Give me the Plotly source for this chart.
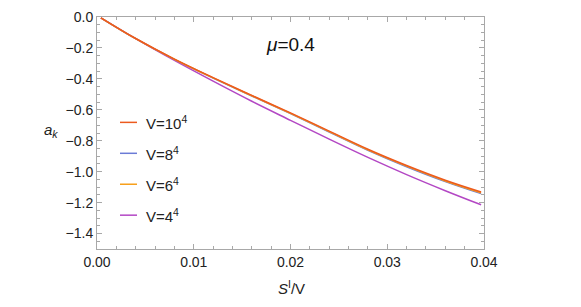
import plotly.graph_objects as go

x_vals = [0.0004, 0.004, 0.008, 0.012, 0.016, 0.020, 0.024, 0.028, 0.032, 0.036, 0.0397]
a_V10 = [-0.005, -0.139, -0.272, -0.392, -0.507, -0.620, -0.738, -0.855, -0.960, -1.055, -1.131]
a_V8 = [-0.005, -0.140, -0.274, -0.395, -0.511, -0.625, -0.744, -0.862, -0.968, -1.064, -1.142]
a_V6 = [-0.005, -0.140, -0.273, -0.394, -0.509, -0.623, -0.741, -0.859, -0.964, -1.060, -1.137]
a_V4 = [-0.005, -0.140, -0.281, -0.415, -0.545, -0.668, -0.790, -0.908, -1.019, -1.123, -1.214]

series_names = ["V=10<sup>4</sup>", "V=8<sup>4</sup>", "V=6<sup>4</sup>", "V=4<sup>4</sup>"]
series_vals = [a_V10, a_V8, a_V6, a_V4]
colors = ["#EC5A1E", "#6B7BD6", "#F7A01C", "#B347C4"]
draw_order = [3, 1, 2, 0]

fig = go.Figure()
for i in draw_order:
    fig.add_trace(go.Scatter(x=x_vals, y=series_vals[i], mode="lines",
                             line=dict(color=colors[i], width=1.5, shape="spline", smoothing=1.0),
                             showlegend=False))

W, H = 581, 307
L, R, T, B = 97, 97, 9, 58
pw, ph = W - L - R, H - T - B

def px(xp):
    return (xp - L) / pw

def py(yp):
    return 1 - (yp - T) / ph

font = "Liberation Sans, Arial, sans-serif"
legend_rows = [118, 150, 182, 214]
for i, yy in enumerate(legend_rows):
    fig.add_shape(type="line", xref="paper", yref="paper",
                  x0=px(120), x1=px(137), y0=py(yy), y1=py(yy),
                  line=dict(color=colors[i], width=1.5))
    fig.add_annotation(xref="paper", yref="paper", x=px(144), y=py(yy),
                       text=series_names[i], showarrow=False, xanchor="left", yanchor="middle",
                       font=dict(family=font, size=15, color="#222"))

fig.add_annotation(xref="paper", yref="paper", x=px(290), y=py(37),
                   text="<i>μ</i>=0.4", showarrow=False, xanchor="center", yanchor="middle",
                   font=dict(family=font, size=19, color="#111"))
fig.add_annotation(xref="paper", yref="paper", x=px(51), y=py(126),
                   text="<i>a<sub>k</sub></i>", showarrow=False, xanchor="center", yanchor="middle",
                   font=dict(family=font, size=15, color="#222"))
fig.add_annotation(xref="paper", yref="paper", x=px(291), y=py(289),
                   text="<i>S</i><sup>I</sup>/V", showarrow=False, xanchor="center", yanchor="middle",
                   font=dict(family=font, size=15, color="#222"))

axis_common = dict(showgrid=False, zeroline=False, showline=True, linecolor="#A8A8A8", linewidth=1,
                   mirror="ticks", ticks="inside", tickcolor="#A8A8A8", ticklen=5, tickwidth=1,
                   tickfont=dict(family=font, size=14, color="#222"))
fig.update_xaxes(range=[0, 0.04], tickvals=[0, 0.01, 0.02, 0.03, 0.04],
                 ticktext=["0.00", "0.01", "0.02", "0.03", "0.04"],
                 minor=dict(ticks="inside", dtick=0.002, tick0=0, ticklen=3, tickcolor="#A8A8A8", showgrid=False),
                 **axis_common)
fig.update_yaxes(range=[-1.5, 0], tickvals=[0, -0.2, -0.4, -0.6, -0.8, -1.0, -1.2, -1.4],
                 ticktext=["0.0", "−0.2", "−0.4", "−0.6", "−0.8", "−1.0", "−1.2", "−1.4"],
                 minor=dict(ticks="inside", dtick=0.05, tick0=0, ticklen=3, tickcolor="#A8A8A8", showgrid=False),
                 **axis_common)

fig.update_layout(width=W, height=H, margin=dict(l=L, r=R, t=T, b=B),
                  plot_bgcolor="white", paper_bgcolor="white", showlegend=False)
fig.write_html("out.html", config={"displayModeBar": False},
               post_script="document.body.style.margin='0';")
